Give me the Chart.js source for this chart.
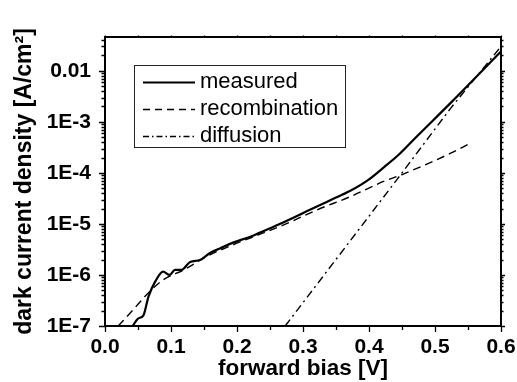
<!DOCTYPE html>
<html>
<head>
<meta charset="utf-8">
<script src="https://cdn.jsdelivr.net/npm/chart.js@4"></script>
<style>
  html, body { margin: 0; padding: 0; background: #fff; }
  #wrap { width: 517px; height: 382px; }
</style>
</head>
<body>
<div id="wrap"><canvas id="grafico"></canvas></div>
<script>
const FONT = '"Liberation Sans", Arial, sans-serif';

// forward bias [V] and dark current density [A/cm2]
const measuredV = [0.042, 0.050, 0.058, 0.066, 0.076, 0.088, 0.098, 0.106, 0.116, 0.129, 0.144, 0.159, 0.174, 0.194, 0.220, 0.235, 0.270, 0.321, 0.346, 0.371, 0.399, 0.422, 0.447, 0.472, 0.523, 0.573, 0.600];
const measuredJ = [1e-7, 1.4e-7, 1.6e-7, 3.8e-7, 7.4e-7, 1.16e-6, 1.0e-6, 1.26e-6, 1.26e-6, 1.8e-6, 1.96e-6, 2.7e-6, 3.3e-6, 4.3e-6, 5.6e-6, 6.8e-6, 1.07e-5, 2.2e-5, 3.1e-5, 4.4e-5, 7.3e-5, 1.27e-4, 2.4e-4, 5.1e-4, 2.3e-3, 1.05e-2, 2.4e-2];

const recombV = [0.020, 0.043, 0.063, 0.088, 0.119, 0.154, 0.194, 0.235, 0.270, 0.321, 0.371, 0.422, 0.452, 0.523, 0.553];
const recombJ = [1e-7, 2.1e-7, 4.1e-7, 8e-7, 1.25e-6, 2.3e-6, 3.9e-6, 6.3e-6, 9.5e-6, 1.88e-5, 3.4e-5, 6.8e-5, 9.5e-5, 2.4e-4, 3.8e-4];

const diffV = [0.273, 0.442, 0.523, 0.600];
const diffJ = [1e-7, 7.3e-5, 1.8e-3, 3.0e-2];

const seriesLabels = ['measured', 'recombination', 'diffusion'];
const xTickLabels = ['0.0', '0.1', '0.2', '0.3', '0.4', '0.5', '0.6'];
const yTickLabels = { '-7': '1E-7', '-6': '1E-6', '-5': '1E-5', '-4': '1E-4', '-3': '1E-3', '-2': '0.01' };

function pts(xs, ys) {
    return xs.map((x, i) => ({ x: x, y: ys[i] }));
}

const dashes = [[], [8, 5], [8, 4, 2, 4]];
const legendDashes = [[], [7, 5], [6, 3, 1.5, 3]];

const data = {
    datasets: [{
        label: seriesLabels[0],
        data: pts(measuredV, measuredJ),
        borderColor: '#000',
        borderWidth: 2.2,
        borderDash: dashes[0],
        cubicInterpolationMode: 'monotone',
    },
    {
        label: seriesLabels[1],
        data: pts(recombV, recombJ),
        borderColor: '#000',
        borderWidth: 1.4,
        borderDash: dashes[1],
        cubicInterpolationMode: 'monotone',
    },
    {
        label: seriesLabels[2],
        data: pts(diffV, diffJ),
        borderColor: '#000',
        borderWidth: 1.4,
        borderDash: dashes[2],
    }]
};

// frame, tick marks and the boxed legend inside the plot
const framePlugin = {
    id: 'frame',
    afterDatasetsDraw(chart) {
        const ctx = chart.ctx;
        const a = chart.chartArea;
        const xs = chart.scales.x;
        const ys = chart.scales.y;
        ctx.save();
        ctx.strokeStyle = '#000';
        ctx.setLineDash([]);
        ctx.lineWidth = 2;
        ctx.strokeRect(a.left, a.top, a.right - a.left, a.bottom - a.top);

        ctx.lineWidth = 1.3;
        ctx.beginPath();
        for (let i = 0; i <= 12; i++) {
            const v = i * 0.05;
            const px = Math.round(xs.getPixelForValue(v)) + 0.5;
            const major = i % 2 === 0;
            ctx.moveTo(px, a.bottom);
            ctx.lineTo(px, a.bottom + (major ? 6 : 4));
            ctx.moveTo(px, a.top);
            ctx.lineTo(px, a.top - 1.5);
        }
        for (let e = -7; e <= -2; e++) {
            for (let k = 1; k <= 9; k++) {
                const v = k * Math.pow(10, e);
                if (v > ys.max) break;
                const py = Math.round(ys.getPixelForValue(v)) + 0.5;
                const major = k === 1;
                ctx.moveTo(a.left, py);
                ctx.lineTo(a.left - (major ? 6 : 3.5), py);
                ctx.moveTo(a.right, py);
                ctx.lineTo(a.right + (major ? 4 : 2.5), py);
            }
        }
        ctx.stroke();

        // legend box
        const bx = 134, by = 65, bw = 211, bh = 82;
        ctx.lineWidth = 1;
        ctx.strokeStyle = '#222';
        ctx.strokeRect(bx + 0.5, by + 0.5, bw, bh);
        ctx.font = '22px ' + FONT;
        ctx.fillStyle = '#000';
        ctx.textBaseline = 'middle';
        ctx.textAlign = 'left';
        chart.data.datasets.forEach((ds, i) => {
            const yy = by + 17 + i * 27;
            ctx.strokeStyle = '#000';
            ctx.lineWidth = ds.borderWidth;
            ctx.setLineDash(legendDashes[i]);
            ctx.beginPath();
            ctx.moveTo(bx + 9, yy + 0.5);
            ctx.lineTo(bx + 61, yy + 0.5);
            ctx.stroke();
            ctx.setLineDash([]);
            ctx.fillText(ds.label, bx + 66, yy);
        });
        ctx.restore();
    }
};

const config = {
    type: 'scatter',
    data: data,
    options: {
        responsive: true,
        maintainAspectRatio: false,
        animation: false,
        showLine: true,
        layout: { padding: { top: 37, right: 16, left: 0, bottom: 0 } },
        elements: {
            point: { radius: 0, hoverRadius: 0 },
            line: { tension: 0, fill: false }
        },
        plugins: {
            legend: { display: false },
            tooltip: { enabled: false }
        },
        scales: {
            x: {
                type: 'linear',
                min: 0,
                max: 0.6,
                afterFit: s => { s.height = 56; s.paddingLeft = 0; s.paddingRight = 0; },
                grid: { display: true, drawOnChartArea: false, drawTicks: false },
                border: { display: false },
                ticks: {
                    stepSize: 0.1,
                    padding: 9,
                    color: '#000',
                    font: { family: FONT, size: 21, weight: 'bold' },
                    callback: (v) => xTickLabels[Math.round(v * 10)] || ''
                },
                title: {
                    display: true,
                    text: 'forward bias [V]',
                    color: '#000',
                    padding: { top: 0, bottom: 0 },
                    font: { family: FONT, size: 22.5, weight: 'bold' }
                }
            },
            y: {
                type: 'logarithmic',
                min: 1e-7,
                max: 0.046,
                afterFit: s => { s.width = 105; },
                grid: { display: true, drawOnChartArea: false, drawTicks: false },
                border: { display: false },
                ticks: {
                    autoSkip: false,
                    padding: 14,
                    color: '#000',
                    font: { family: FONT, size: 21, weight: 'bold' },
                    callback: (v) => {
                        const l = Math.log10(v);
                        const r = Math.round(l);
                        if (Math.abs(l - r) > 1e-6) return '';
                        return yTickLabels[String(r)] || '';
                    }
                },
                title: {
                    display: true,
                    text: 'dark current density [A/cm²]',
                    color: '#000',
                    padding: { top: 11, bottom: 0 },
                    font: { family: FONT, size: 23, weight: 'bold' }
                }
            }
        }
    },
    plugins: [framePlugin]
};

const grafico = new Chart(
    document.getElementById('grafico'),
    config
);
</script>
</body>
</html>
